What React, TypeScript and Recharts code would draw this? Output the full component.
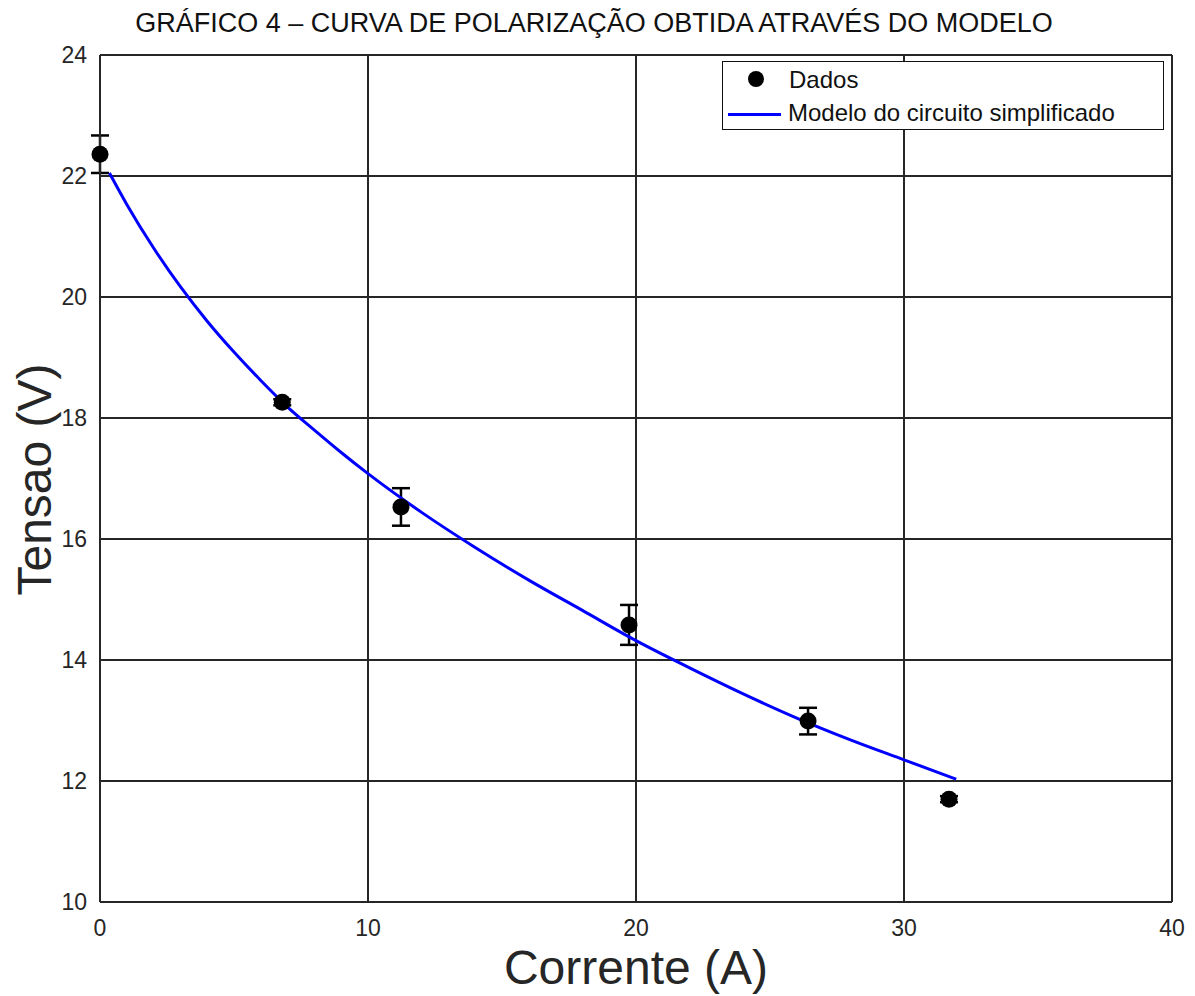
import {
  ComposedChart,
  Scatter,
  Line,
  XAxis,
  YAxis,
  CartesianGrid,
  ErrorBar,
  Legend,
  Label,
} from "recharts";

// Dados medidos (corrente, tensao, erro)
const correnteDados = [0.0, 6.8, 11.23, 19.74, 26.42, 31.68];
const tensaoDados = [22.36, 18.26, 16.53, 14.58, 12.99, 11.7];
const erroDados = [0.31, 0.05, 0.31, 0.33, 0.22, 0.05];

// Curva do modelo
const correnteModelo = [
  0.35, 1, 2, 3, 4, 5, 6, 7, 8, 9, 10, 12, 14, 16, 18, 20, 22, 24, 26, 28, 30, 31.95,
];
const tensaoModelo = [
  22.05, 21.53, 20.81, 20.17, 19.6, 19.09, 18.62, 18.18, 17.8, 17.43, 17.08, 16.44,
  15.86, 15.32, 14.82, 14.32, 13.87, 13.44, 13.04, 12.68, 12.35, 12.03,
];

const xTicks = [0, 10, 20, 30, 40];
const yTicks = [10, 12, 14, 16, 18, 20, 22, 24];

const dados = correnteDados.map((i, k) => ({ i, v: tensaoDados[k], erro: erroDados[k] }));
const modelo = correnteModelo.map((i, k) => ({ i, v: tensaoModelo[k] }));

const ink = "#262626";
const font = "'Liberation Sans', Arial, sans-serif";

function LegendBox() {
  return (
    <div
      style={{
        position: "absolute",
        left: 722,
        top: 61,
        width: 440,
        height: 67,
        border: "1.5px solid #111",
        background: "#fff",
        fontFamily: font,
        fontSize: 24,
        color: "#111",
      }}
    >
      <div style={{ position: "absolute", left: 25, top: 9, width: 16, height: 16, borderRadius: 8, background: "#000" }} />
      <div style={{ position: "absolute", left: 66, top: 4 }}>Dados</div>
      <div style={{ position: "absolute", left: 5, top: 51, width: 53, height: 3, background: "#0000ff" }} />
      <div style={{ position: "absolute", left: 65, top: 37 }}>Modelo do circuito simplificado</div>
    </div>
  );
}

export default function App() {
  return (
    <div style={{ position: "absolute", left: 0, top: 0, width: 1195, height: 996, background: "#fff" }}>
      <div
        style={{
          position: "absolute",
          left: 0,
          top: 8,
          width: 1188,
          textAlign: "center",
          fontFamily: font,
          fontSize: 27,
          color: "#111",
        }}
      >
        GRÁFICO 4 – CURVA DE POLARIZAÇÃO OBTIDA ATRAVÉS DO MODELO
      </div>
      <ComposedChart
        width={1195}
        height={996}
        margin={{ top: 55, right: 23, bottom: 0, left: 0 }}
        style={{ position: "absolute", left: 0, top: 0 }}
      >
        <CartesianGrid stroke={ink} strokeWidth={2} fill="none" />
        <XAxis
          type="number"
          dataKey="i"
          domain={[0, 40]}
          ticks={xTicks}
          height={94}
          tickLine={false}
          axisLine={{ stroke: ink, strokeWidth: 2 }}
          tickMargin={12}
          tick={{ fill: ink, fontSize: 23, fontFamily: font }}
        >
          <Label
            value="Corrente (A)"
            position="insideBottom"
            offset={12}
            style={{ fill: ink, fontSize: 48, fontFamily: font }}
          />
        </XAxis>
        <YAxis
          type="number"
          dataKey="v"
          domain={[10, 24]}
          ticks={yTicks}
          width={100}
          tickLine={false}
          axisLine={{ stroke: ink, strokeWidth: 2 }}
          tickMargin={7}
          tick={{ fill: ink, fontSize: 23, fontFamily: font }}
        >
          <Label
            content={(props: any) => {
              const vb = props.viewBox || { x: 0, y: 55, width: 100, height: 847 };
              const x = vb.x + 51;
              const y = vb.y + vb.height / 2 + 1;
              return (
                <text
                  x={x}
                  y={y}
                  transform={`rotate(-90, ${x}, ${y})`}
                  textAnchor="middle"
                  fill={ink}
                  fontSize={48}
                  fontFamily={font}
                >
                  Tensao (V)
                </text>
              );
            }}
          />
        </YAxis>
        <Scatter
          name="Dados"
          data={dados}
          dataKey="v"
          fill="#000"
          isAnimationActive={false}
          shape={(p: any) => <circle cx={p.cx} cy={p.cy} r={8.5} fill="#000" />}
        >
          <ErrorBar dataKey="erro" direction="y" width={9} stroke="#000" strokeWidth={2.5} />
        </Scatter>
        <Line
          name="Modelo do circuito simplificado"
          data={modelo}
          dataKey="v"
          type="monotone"
          stroke="#0000ff"
          strokeWidth={3}
          dot={false}
          activeDot={false}
          isAnimationActive={false}
        />
        <Legend content={() => null} />
      </ComposedChart>
      <LegendBox />
    </div>
  );
}
